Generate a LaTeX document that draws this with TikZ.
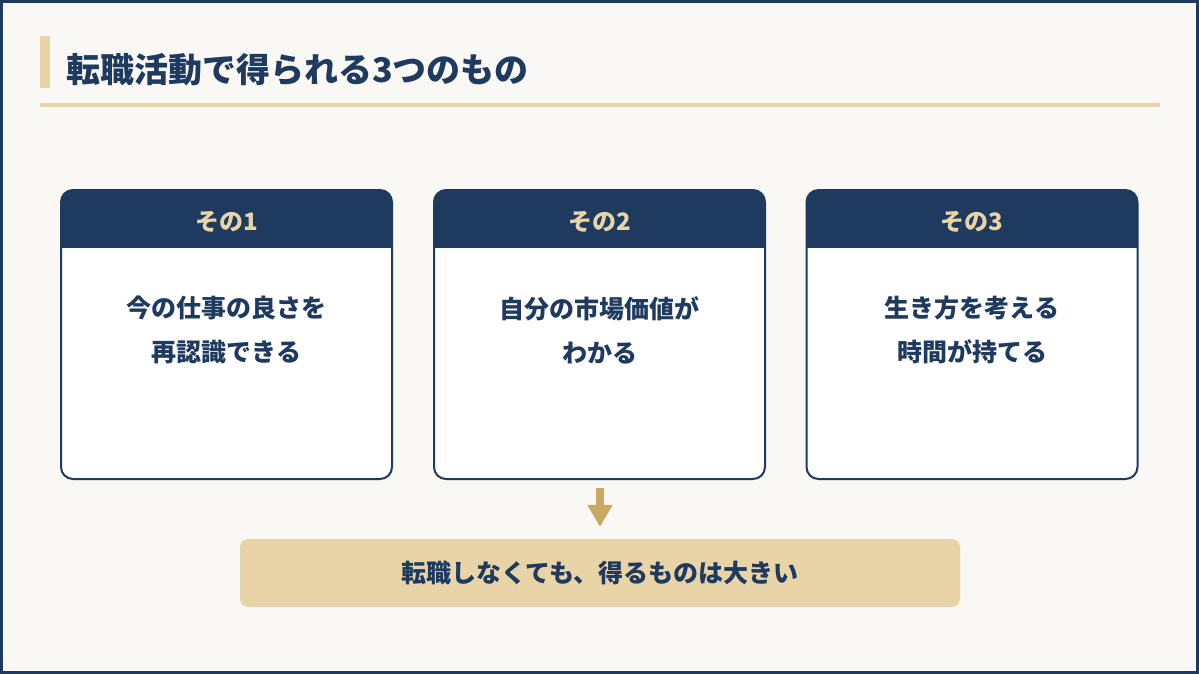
\documentclass[tikz,border=0pt]{standalone}
\usepackage{fontspec}
\newfontfamily\cjk{Noto Sans CJK JP}
\usetikzlibrary{arrows.meta}
\definecolor{navy}{HTML}{1F3A5F}
\definecolor{gold}{HTML}{E8D4A6}
\definecolor{golddark}{HTML}{C9A961}
\definecolor{bg}{HTML}{FAF8F4}
\begin{document}
\begin{tikzpicture}[x=1pt,y=-1pt,
  card/.style={rectangle, draw=navy, line width=2pt, fill=white, rounded corners=12pt,
    minimum width=331pt, minimum height=289pt, inner sep=0pt,
    path picture={\fill[navy, sharp corners] (path picture bounding box.north west) rectangle ([yshift=-58pt]path picture bounding box.north east);}},
  headtxt/.style={font=\cjk\bfseries\fontsize{24}{28}\selectfont, text=gold},
  bodytxt/.style={font=\cjk\bfseries\fontsize{25}{44}\selectfont, text=navy, align=center},
  summary/.style={rectangle, fill=gold, rounded corners=8pt, minimum width=720pt, minimum height=68pt,
    font=\cjk\bfseries\fontsize{25}{30}\selectfont, text=navy},
  every node/.style={inner sep=0pt}]
\useasboundingbox (0,0) rectangle (1199,674);
\fill[bg] (0,0) rectangle (1199,674);
\draw[navy, line width=3pt] (1.5,1.5) rectangle (1197.5,672.5);
% title
\fill[gold] (40,36) rectangle (50,88);
\node[anchor=west, font=\cjk\bfseries\fontsize{34}{40}\selectfont, text=navy] (title) at (66,70) {転職活動で得られる3つのもの};
\fill[gold] (40,103) rectangle (1160,107);
% cards
\node[card] (card1) at (226.5,334.5) {};
\node[card] (card2) at (599.5,334.5) {};
\node[card] (card3) at (972,334.5) {};
\node[headtxt] (h1) at (226.5,222) {その1};
\node[headtxt] (h2) at (599.5,222) {その2};
\node[headtxt] (h3) at (972,222) {その3};
\node[bodytxt] (b1) at (226.5,330) {今の仕事の良さを\\再認識できる};
\node[bodytxt] (b2) at (599.5,330) {自分の市場価値が\\わかる};
\node[bodytxt] (b3) at (972,330) {生き方を考える\\時間が持てる};
% summary
\node[summary] (sum) at (600,573) {転職しなくても、得るものは大きい};
\draw[golddark, line width=8pt, -{Triangle[width=24pt,length=22pt]}, shorten <=8pt, shorten >=12pt] (card2.south -| sum.north) -- (sum.north);
\end{tikzpicture}
\end{document}
